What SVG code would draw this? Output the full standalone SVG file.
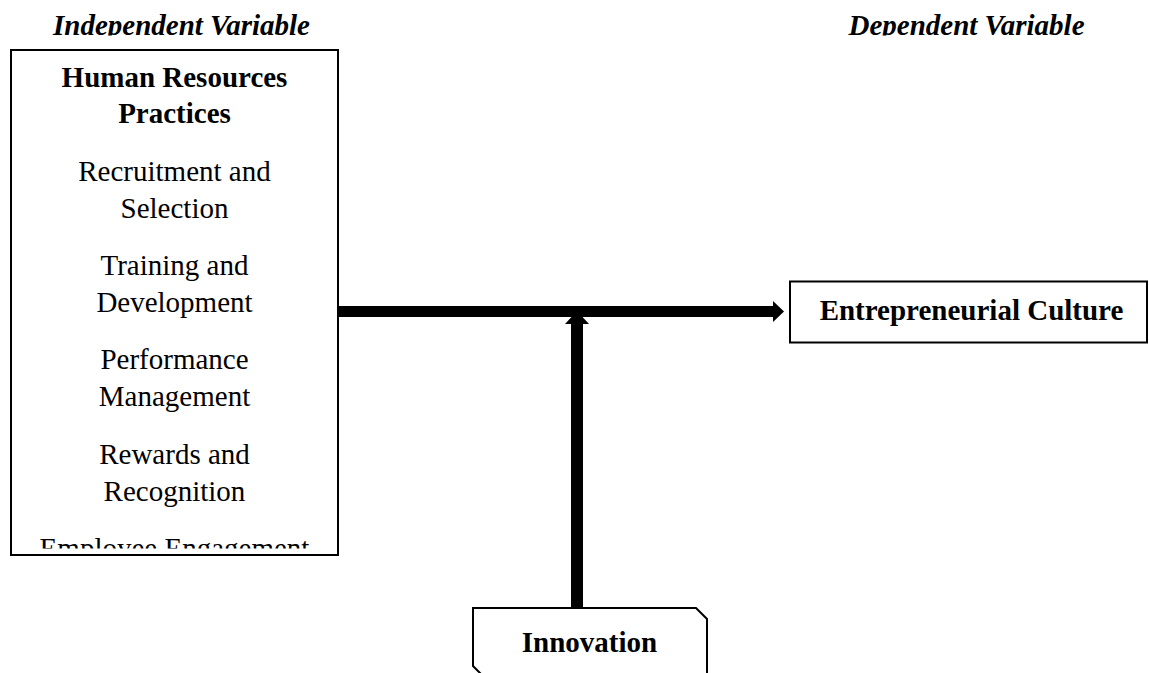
<svg xmlns="http://www.w3.org/2000/svg" width="1149" height="673" viewBox="0 0 1149 673">
  <style>
    .box { fill: #ffffff; stroke: #000000; stroke-width: 2; }
    .t { font-family: "Liberation Serif", "Times New Roman", serif; font-size: 29px; fill: #000000; text-anchor: middle; }
    .b { font-weight: bold; }
    .hdr { font-weight: bold; font-style: italic; }
    .wire { stroke: #000000; fill: none; }
  </style>
  <defs>
    <clipPath id="hdrClip"><rect x="0" y="0" width="1149" height="35.5"/></clipPath>
    <clipPath id="hrClip"><rect x="12" y="51" width="325" height="497.5"/></clipPath>
    <marker id="headH" markerUnits="userSpaceOnUse" markerWidth="12" markerHeight="22" refX="0" refY="10.5" orient="auto">
      <path d="M0,0 L11,10.5 L0,21 Z" fill="#000000"/>
    </marker>
    <marker id="headV" markerUnits="userSpaceOnUse" markerWidth="14" markerHeight="25" refX="0" refY="12" orient="auto">
      <path d="M0,0 L13,12 L0,24 Z" fill="#000000"/>
    </marker>
  </defs>
  <rect width="1149" height="673" fill="#ffffff"/>

  <!-- column headings -->
  <g id="headings" clip-path="url(#hdrClip)">
    <text class="t hdr" x="181.5" y="35">Independent Variable</text>
    <text class="t hdr" x="966.5" y="35">Dependent Variable</text>
  </g>

  <!-- independent variable: HR practices -->
  <g id="hr-practices">
    <rect class="box" x="11" y="50" width="327" height="505"/>
    <g clip-path="url(#hrClip)">
      <text class="t b" x="174.5" y="86.5">Human Resources</text>
      <text class="t b" x="174.5" y="123">Practices</text>
      <text class="t" x="174.5" y="180.5">Recruitment and</text>
      <text class="t" x="174.5" y="217.5">Selection</text>
      <text class="t" x="174.5" y="275">Training and</text>
      <text class="t" x="174.5" y="311.5">Development</text>
      <text class="t" x="174.5" y="369">Performance</text>
      <text class="t" x="174.5" y="406">Management</text>
      <text class="t" x="174.5" y="464">Rewards and</text>
      <text class="t" x="174.5" y="500.5">Recognition</text>
      <text class="t" x="174.5" y="558">Employee Engagement</text>
    </g>
  </g>

  <!-- dependent variable -->
  <g id="entrepreneurial-culture">
    <rect class="box" x="790" y="281.5" width="357" height="61"/>
    <text class="t b" x="971.5" y="320">Entrepreneurial Culture</text>
  </g>

  <!-- moderating variable -->
  <g id="innovation">
    <path class="box" d="M473,608 L696,608 L707,619 L707,677 L484,677 L473,666 Z"/>
    <text class="t b" x="589.5" y="652">Innovation</text>
  </g>

  <!-- connectors -->
  <g id="connectors">
    <line class="wire" x1="577" y1="608" x2="577" y2="324" stroke-width="12" marker-end="url(#headV)"/>
    <line class="wire" x1="339" y1="311.5" x2="773" y2="311.5" stroke-width="11" marker-end="url(#headH)"/>
  </g>
</svg>
